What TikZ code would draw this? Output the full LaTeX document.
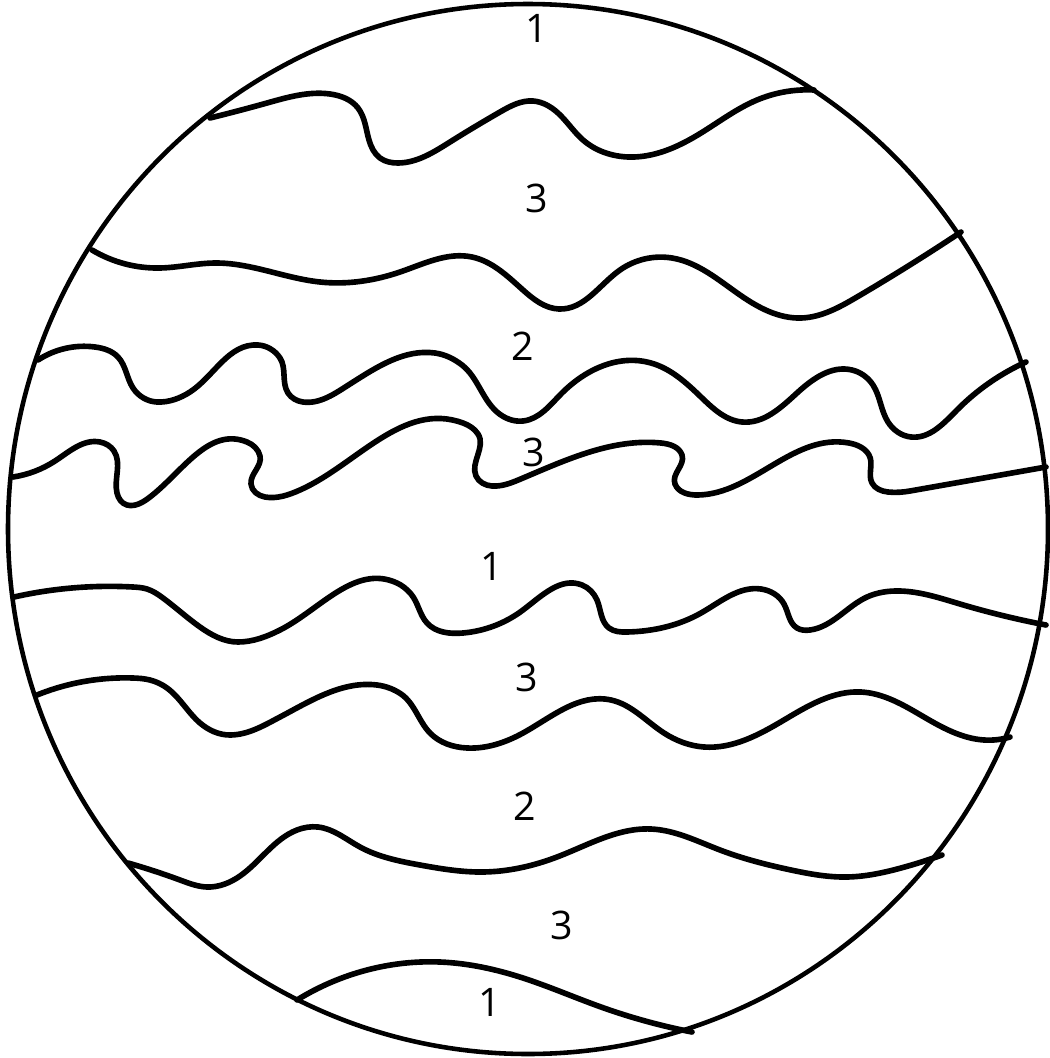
\documentclass[tikz,border=0pt]{standalone}
\usepackage{fontspec}
\setmainfont{Open Sans}
\usetikzlibrary{positioning,hobby}

\tikzset{
  band/.style={line width=1.6pt, line join=round, line cap=round, use Hobby shortcut},
  zone/.style={font=\fontsize{11.2}{13}\selectfont, inner sep=0pt}
}

\begin{document}
\begin{tikzpicture}[x=0.1mm, y=-0.1mm]
  \useasboundingbox (0,0) rectangle (1049,1058);
  % outline
  \draw[line width=1.3pt] (528,529) ellipse [x radius=52mm, y radius=52.5mm];
  % bands, top to bottom
  \draw[band] (210,118) .. (267,103) .. (330,94) .. (358,108) .. (369,140) .. (380,158) .. (398,163) .. (450,142) .. (500,112) .. (533,101) .. (558,113) .. (583,140) .. (634,157) .. (701,133) .. (757,100) .. (814,90);
  \draw[band] (92,250) .. (160,268) .. (215,263) .. (320,282) .. (400,272) .. (472,257) .. (523,290) .. (559,309) .. (620,270) .. (672,258) .. (740,295) .. (801,318) .. (857,297) .. (961,232);
  \draw[band] (38,360) .. (95,347) .. (118,357) .. (133,388) .. (157,402) .. ([tension=1.5]190,392) .. ([tension=1.5]258,345) .. (280,358) .. (288,393) .. (303,402) .. ([tension=1.5]350,384) .. ([tension=1.5]435,353) .. (462,365) .. (497,412) .. (523,421) .. (561,394) .. (651,363) .. (701,397) .. (742,422) .. (797,393) .. (852,370) .. (873,385) .. (888,422) .. (911,437) .. (957,410) .. (1026,362);
  \draw[band] (13,477) .. (55,461) .. (100,442) .. (114,451) .. (117,493) .. (127,505) .. ([tension=1.6]150,497) .. ([tension=1.6]247,442) .. (260,456) .. (251,484) .. (265,497) .. ([tension=1.8]300,490) .. ([tension=1.8]463,423) .. (478,434) .. (476,476) .. (492,486) .. ([tension=1.5]523,478) .. ([tension=1.5]661,443) .. (682,455) .. (675,484) .. ([tension=1.6]698,495) .. ([tension=1.6]849,443) .. (869,455) .. (872,483) .. (888,492) .. ([tension=1.6]910,491) .. ([tension=1.6]1046,467);
  \draw[band] (14,597) .. (133,587) .. (147,589) .. (163,598) .. (200,627) .. (238,642) .. ([tension=1.6]280,630) .. ([tension=1.6]397,583) .. (411,594) .. (427,623) .. (463,633) .. (523,610) .. (582,585) .. (597,600) .. (609,628) .. (627,632) .. (701,613) .. (761,589) .. (784,604) .. (797,628) .. (810,630) .. (867,597) .. (900,591) .. (960,604) .. (1046,625);
  \draw[band] (37,695) .. (133,678) .. (150,680) .. (167,688) .. (200,723) .. (230,735) .. ([tension=1.6]280,717) .. ([tension=1.6]377,685) .. (401,694) .. (430,733) .. (467,748) .. (523,733) .. (611,700) .. (664,733) .. (704,747) .. (784,720) .. (861,692) .. (924,717) .. (984,740) .. (1010,737);
  \draw[band] (128,863) .. (180,880) .. (207,887) .. (240,876) .. (297,830) .. (318,827) .. (360,847) .. (420,865) .. (483,872) .. (557,857) .. (651,829) .. (720,850) .. (791,870) .. (847,877) .. (901,868) .. (942,855);
  \draw[band] (297,1000) .. (367,970) .. (440,962) .. (523,978) .. (601,1007) .. (692,1032);
  % zone numbers
  \node[zone] (top1) at (537,28) {1};
  \node[zone] (upper3) at (537,198) {3};
  \node[zone] (upper2) at (523,346) {2};
  \node[zone] (mid3) at (534,452) {3};
  \node[zone] (mid1) at (492,566) {1};
  \node[zone] (lower3) at (527,677) {3};
  \node[zone] (lower2) at (525,806) {2};
  \node[zone] (bottom3) at (562,925) {3};
  \node[zone] (bottom1) at (490,1002) {1};
\end{tikzpicture}
\end{document}
